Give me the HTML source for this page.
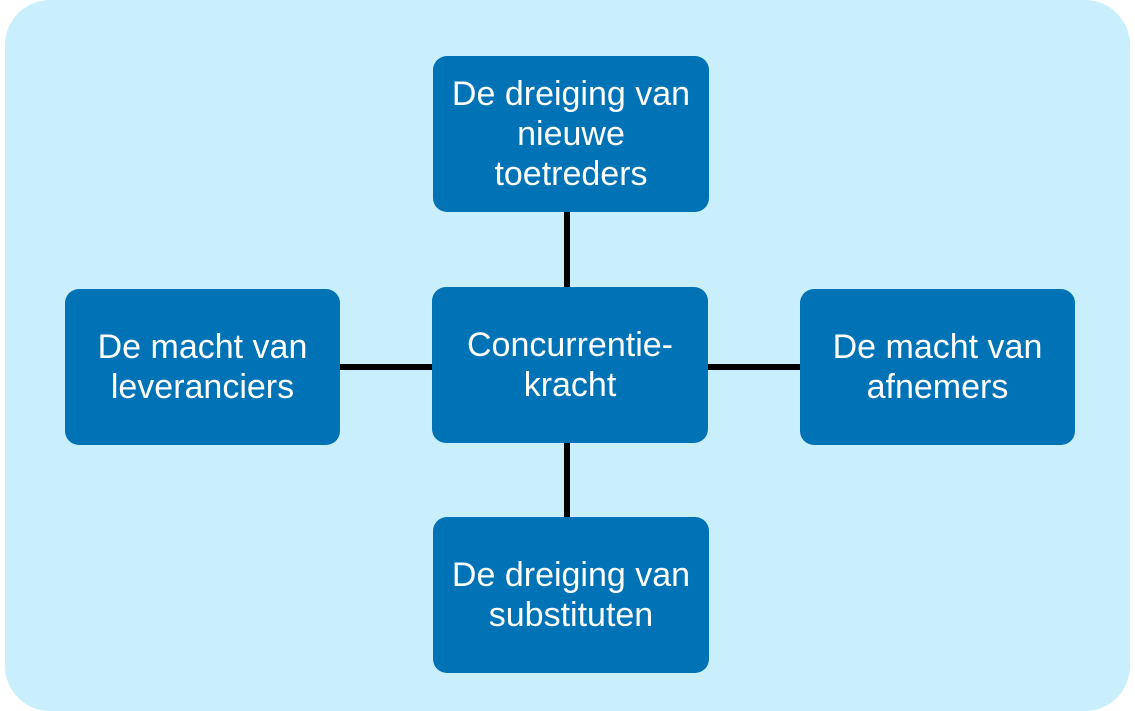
<!DOCTYPE html>
<html><head><style>
body{margin:0;width:1135px;height:711px;background:#fff;position:relative;overflow:hidden;font-family:"Liberation Sans",Arial,sans-serif}
.bg{position:absolute;left:5px;top:0;width:1125px;height:711px;background:#c9effd;border-radius:45px}
.b{position:absolute;background:#0072b6;border-radius:14px;color:#fff;font-size:34px;line-height:40px;display:flex;align-items:center;justify-content:center;text-align:center}
.l{position:absolute;background:#000}
</style></head><body>
<div class="bg"></div>
<div class="l" style="left:564px;top:210px;width:6px;height:320px"></div>
<div class="l" style="left:336px;top:364px;width:470px;height:6px"></div>
<div class="b" style="left:433px;top:56px;width:276px;height:156px">De dreiging van<br>nieuwe<br>toetreders</div>
<div class="b" style="left:65px;top:289px;width:275px;height:156px">De macht van<br>leveranciers</div>
<div class="b" style="left:432px;top:287px;width:276px;height:156px">Concurrentie-<br>kracht</div>
<div class="b" style="left:800px;top:289px;width:275px;height:156px">De macht van<br>afnemers</div>
<div class="b" style="left:433px;top:517px;width:276px;height:156px">De dreiging van<br>substituten</div>
</body></html>
